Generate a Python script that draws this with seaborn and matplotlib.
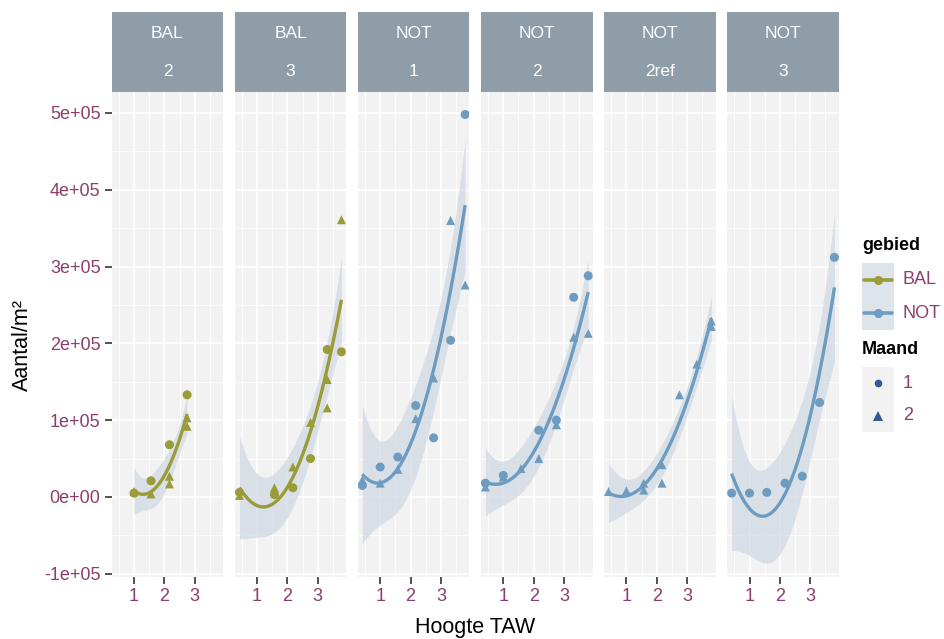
import numpy as np
import pandas as pd
import seaborn as sns
import matplotlib
matplotlib.use("Agg")
import matplotlib.pyplot as plt
from matplotlib.patches import Rectangle
from matplotlib.lines import Line2D
from matplotlib.ticker import MultipleLocator, FixedLocator

# ---- data: density per height (TAW) for each area / transect ----
bal_2_hoogte = [1.00, 1.00, 1.56, 1.56, 2.17, 2.17, 2.17, 2.75, 2.75, 2.75]
bal_2_aantal = [5000, 7000, 21000, 4000, 68000, 27000, 17000, 133000, 103000, 92000]
bal_2_maand = [1, 2, 1, 2, 1, 2, 2, 1, 2, 2]

bal_3_hoogte = [0.42, 0.42, 1.57, 1.57, 1.57, 2.18, 2.18, 2.76, 2.76, 3.31, 3.31, 3.31, 3.78, 3.78]
bal_3_aantal = [6000, 2000, 3000, 12000, 7000, 12000, 39000, 50000, 97000, 192000, 153000, 116000, 189000, 361000]
bal_3_maand = [1, 2, 1, 2, 2, 1, 2, 1, 2, 1, 2, 2, 1, 2]

not_1_hoogte = [0.41, 0.41, 1.00, 1.00, 1.58, 1.58, 2.17, 2.17, 2.76, 2.76, 3.32, 3.32, 3.80, 3.80]
not_1_aantal = [15000, 22000, 39000, 18000, 52000, 36000, 119000, 102000, 77000, 155000, 204000, 360000, 498000, 276000]
not_1_maand = [1, 2, 1, 2, 1, 2, 1, 2, 1, 2, 1, 2, 1, 2]

not_2_hoogte = [0.41, 0.41, 1.00, 1.00, 1.58, 2.17, 2.17, 2.75, 2.75, 3.32, 3.32, 3.80, 3.80]
not_2_aantal = [18000, 13000, 28000, 26000, 37000, 87000, 50000, 100000, 94000, 260000, 208000, 288000, 213000]
not_2_maand = [1, 2, 1, 2, 2, 1, 2, 1, 2, 1, 2, 1, 2]

not_2ref_hoogte = [0.41, 1.00, 1.57, 1.57, 2.17, 2.17, 2.75, 3.32, 3.80, 3.80]
not_2ref_aantal = [7000, 8000, 18000, 9000, 42000, 18000, 133000, 173000, 229000, 222000]
not_2ref_maand = [2, 2, 2, 2, 2, 2, 2, 2, 2, 2]

not_3_hoogte = [0.41, 1.00, 1.57, 2.17, 2.74, 3.31, 3.80]
not_3_aantal = [5000, 5000, 6000, 18000, 27000, 123000, 312000]
not_3_maand = [1, 1, 1, 1, 1, 1, 1]

panel_gebied = ["BAL", "BAL", "NOT", "NOT", "NOT", "NOT"]
panel_transect = ["2", "3", "1", "2", "2ref", "3"]
panel_hoogte = [bal_2_hoogte, bal_3_hoogte, not_1_hoogte, not_2_hoogte, not_2ref_hoogte, not_3_hoogte]
panel_aantal = [bal_2_aantal, bal_3_aantal, not_1_aantal, not_2_aantal, not_2ref_aantal, not_3_aantal]
panel_maand = [bal_2_maand, bal_3_maand, not_1_maand, not_2_maand, not_2ref_maand, not_3_maand]

gebied_levels = ["BAL", "NOT"]
maand_levels = [1, 2]
y_ticks = [-1e5, 0, 1e5, 2e5, 3e5, 4e5, 5e5]
y_tick_labels = ["-1e+05", "0e+00", "1e+05", "2e+05", "3e+05", "4e+05", "5e+05"]
x_ticks = [1, 2, 3]

frames = []
for geb, tr, hx, ay, mm in zip(panel_gebied, panel_transect, panel_hoogte, panel_aantal, panel_maand):
    frames.append(pd.DataFrame({"gebied": geb, "transect": tr, "panel": f"{geb}|{tr}",
                                "hoogte": hx, "aantal": ay, "maand": mm}))
df = pd.concat(frames, ignore_index=True)
panel_order = [f"{g}|{t}" for g, t in zip(panel_gebied, panel_transect)]

# ---- styling ----
BG = "#f2f2f2"
STRIP = "#8f9da8"
TXT = "#8b3e6b"
RIBBON = "#cdd8e2"
palette = {"BAL": "#9a9c38", "NOT": "#6e9cc0"}
FONT = "Liberation Sans"

sns.set_theme(style="white")
plt.rcParams["font.family"] = [FONT, "DejaVu Sans"]

T975 = {3: 3.182, 4: 2.776, 5: 2.571, 6: 2.447, 7: 2.365, 8: 2.306, 9: 2.262,
        10: 2.228, 11: 2.201, 12: 2.179, 13: 2.160, 14: 2.145}


def quad_smooth(x, y, color=None, **kws):
    """Quadratic least-squares fit with a 95% confidence band."""
    x = np.asarray(x, float)
    y = np.asarray(y, float)
    if len(x) < 4:
        return
    ax = plt.gca()
    X = np.column_stack([np.ones_like(x), x, x ** 2])
    beta, *_ = np.linalg.lstsq(X, y, rcond=None)
    resid = y - X @ beta
    dof = len(x) - 3
    s2 = resid @ resid / dof
    cov = s2 * np.linalg.inv(X.T @ X)
    xg = np.linspace(x.min(), x.max(), 120)
    G = np.column_stack([np.ones_like(xg), xg, xg ** 2])
    fit = G @ beta
    se = np.sqrt(np.einsum("ij,jk,ik->i", G, cov, G))
    t = T975.get(dof, 2.0)
    ax.fill_between(xg, fit - t * se, fit + t * se, color=RIBBON, alpha=0.7,
                    lw=0, zorder=1)
    ax.plot(xg, fit, color=color, lw=2.4, zorder=4, solid_capstyle="butt")


g = sns.FacetGrid(df, col="panel", col_order=panel_order, hue="gebied",
                  hue_order=gebied_levels, palette=palette, sharex=True,
                  sharey=True, height=6.39, aspect=0.25, despine=False)
g.map(quad_smooth, "hoogte", "aantal")
g.map_dataframe(sns.scatterplot, x="hoogte", y="aantal", style="maand",
                style_order=maand_levels, markers={1: "o", 2: "^"},
                s=42, linewidth=0, zorder=3, legend=False)

fig = g.figure
fig.set_size_inches(9.44, 6.39)
fig.set_dpi(100)

W, H = 944.0, 639.0
p_left, p_right, p_top, p_bottom = 111.7, 838.7, 92.0, 577.0
gap = 11.6
pw = (p_right - p_left - 5 * gap) / 6
fig.subplots_adjust(left=p_left / W, right=p_right / W, top=1 - p_top / H,
                    bottom=1 - p_bottom / H, wspace=gap / pw)

ph = p_bottom - p_top
for i, ax in enumerate(g.axes.flat):
    ax.set_facecolor(BG)
    for sp in ax.spines.values():
        sp.set_visible(False)
    ax.set_xlim(0.265, 3.94)
    ax.set_ylim(-1.042e5, 5.273e5)
    ax.xaxis.set_major_locator(FixedLocator(x_ticks))
    ax.xaxis.set_minor_locator(MultipleLocator(0.5))
    ax.yaxis.set_major_locator(FixedLocator(y_ticks))
    ax.yaxis.set_minor_locator(MultipleLocator(0.5e5))
    ax.set_xticklabels([str(v) for v in x_ticks])
    ax.grid(which="major", color="white", lw=1.2)
    ax.grid(which="minor", color="white", lw=0.6)
    ax.set_axisbelow(True)
    ax.tick_params(axis="x", which="major", bottom=True, length=5, width=1.1,
                   color="#222222", labelsize=13, labelcolor=TXT, pad=3)
    ax.tick_params(which="minor", length=0)
    if i == 0:
        ax.set_yticklabels(y_tick_labels)
        ax.tick_params(axis="y", which="major", left=True, length=5, width=1.1,
                       color="#222222", labelsize=13, labelcolor=TXT, pad=3)
    else:
        ax.tick_params(axis="y", which="major", left=False, labelleft=False)
    ax.set_xlabel("")
    ax.set_ylabel("")
    ax.set_title("")
    # facet strip with the two grouping labels
    sh = 80.0 / ph
    ax.add_patch(Rectangle((0, 1), 1, sh, transform=ax.transAxes, clip_on=False,
                           facecolor=STRIP, edgecolor="none", zorder=5))
    ax.text(0.5, 1 + (p_top - 33) / ph, panel_gebied[i], transform=ax.transAxes,
            ha="center", va="center", color="white", fontsize=12.5, zorder=6)
    ax.text(0.5, 1 + (p_top - 72) / ph, panel_transect[i], transform=ax.transAxes,
            ha="center", va="center", color="white", fontsize=12.5, zorder=6)

fig.text((p_left + p_right) / 2 / W, 1 - 627 / H, "Hoogte TAW", ha="center",
         va="center", fontsize=15.5, color="black")
fig.text(22 / W, 1 - 345 / H, "Aantal/m²", ha="center", va="center",
         rotation=90, fontsize=15.5, color="black")


# ---- legends ----
def fx(px):
    return px / W


def fy(py):
    return 1 - py / H


fig.text(fx(862), fy(245), "gebied", ha="left", va="center", fontsize=13,
         fontweight="bold", color="black")
fig.add_artist(Rectangle((fx(862), fy(330)), fx(894) - fx(862), fy(263) - fy(330),
                         transform=fig.transFigure, facecolor="#dde4ea",
                         edgecolor="none"))
for j, (lev, yy) in enumerate(zip(gebied_levels, [280, 313])):
    fig.add_artist(Line2D([fx(864), fx(892)], [fy(yy), fy(yy)], color=palette[lev],
                          lw=2.6, marker=None, transform=fig.transFigure))
    fig.add_artist(Line2D([fx(878)], [fy(yy)], color=palette[lev], marker="o",
                          markersize=6.5, markeredgewidth=0, transform=fig.transFigure))
    fig.text(fx(903), fy(yy), lev, ha="left", va="center", fontsize=13, color=TXT)

fig.text(fx(862), fy(350), "Maand", ha="left", va="center", fontsize=13,
         fontweight="bold", color="black")
fig.add_artist(Rectangle((fx(862), fy(432)), fx(894) - fx(862), fy(367) - fy(432),
                         transform=fig.transFigure, facecolor=BG, edgecolor="none"))
for lev, mk, yy, ms in zip(maand_levels, ["o", "^"], [383, 416], [5.5, 6.5]):
    fig.add_artist(Line2D([fx(878)], [fy(yy)], color="#2f5a92", marker=mk,
                          markersize=ms, markeredgewidth=0, linestyle="none",
                          transform=fig.transFigure))
    fig.text(fx(903), fy(yy), str(lev), ha="left", va="center", fontsize=13, color=TXT)

fig.savefig("out.png", dpi=100, facecolor="white")
